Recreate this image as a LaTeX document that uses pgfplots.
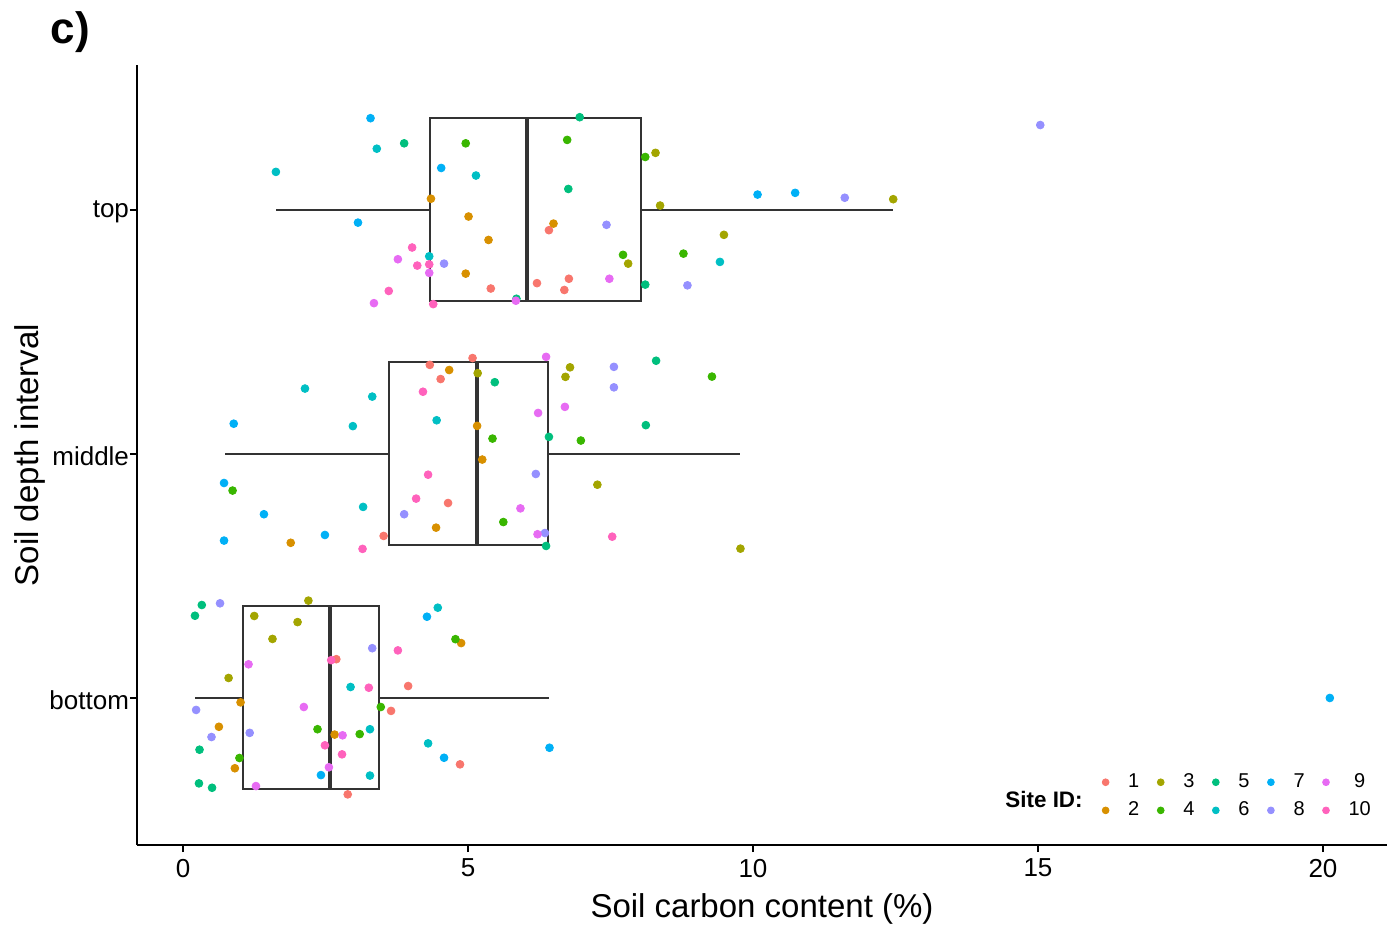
\documentclass[border=0pt]{standalone}
\usepackage{pgfplots}
\pgfplotsset{compat=1.18}
\usepgfplotslibrary{statistics}
\usepackage{fontspec}
\setmainfont{Liberation Sans}

\definecolor{s1}{HTML}{F8766D}
\definecolor{s2}{HTML}{D89000}
\definecolor{s3}{HTML}{A3A500}
\definecolor{s4}{HTML}{39B600}
\definecolor{s5}{HTML}{00BF7D}
\definecolor{s6}{HTML}{00BFC4}
\definecolor{s7}{HTML}{00B0F6}
\definecolor{s8}{HTML}{9590FF}
\definecolor{s9}{HTML}{E76BF3}
\definecolor{s10}{HTML}{FF62BC}
\definecolor{boxgrey}{HTML}{333333}

\pgfplotsset{
  site/.style={only marks, mark=*, mark size=1.95bp, color=#1, mark options={draw=none, fill=#1}},
}

\begin{document}
\begin{tikzpicture}
\useasboundingbox (-68.5bp,-41bp) rectangle (630bp,422.5bp);
\begin{axis}[
  scale only axis, width=625bp, height=390bp,
  xmin=-0.807, xmax=21.123, ymin=0.3975, ymax=3.594,
  axis x line*=bottom, axis y line*=left,
  axis line style={line width=1bp, black},
  xtick={0,5,10,15,20},
  ytick={1,2,3}, yticklabels={bottom,middle,top},
  tick align=outside, major tick length=3.5bp,
  tick style={line width=1bp, black},
  /pgf/number format/assume math mode=true,
  tick label style={font=\fontsize{13bp}{15bp}\selectfont},
  yticklabel style={xshift=3bp, yshift=-1bp},
  xlabel={Soil carbon content (\%)},
  ylabel={Soil depth interval},
  label style={font=\fontsize{16.5bp}{19bp}\selectfont},
  x label style={at={(axis description cs:0.5,-0.082)}, anchor=center},
  y label style={at={(axis description cs:-0.086,0.5)}, anchor=center},
  boxplot/draw direction=x,
  boxplot/every median/.style={line width=2.2bp},
  clip=false,
  legend columns=2, transpose legend,
  legend image code/.code={\draw[#1, mark size=1.7bp] plot coordinates {(0bp,0bp)};},
  legend style={draw=none, fill=none, inner sep=0pt,
    at={(axis cs:16.12,0.597)}, anchor=west,
    font=\fontsize{10bp}{12bp}\selectfont, row sep=1.6bp,
    /tikz/every odd column/.append style={column sep=7.6bp},
    /tikz/every even column/.append style={column sep=7.0bp}},
]
% boxes
\addplot[forget plot, draw=boxgrey, line width=1bp, boxplot prepared={draw position=3,
  lower whisker=1.63, lower quartile=4.33, median=6.04, upper quartile=8.04, upper whisker=12.46,
  box extend=0.75, whisker extend=0}] coordinates {};
\addplot[forget plot, draw=boxgrey, line width=1bp, boxplot prepared={draw position=2,
  lower whisker=0.74, lower quartile=3.61, median=5.16, upper quartile=6.40, upper whisker=9.77,
  box extend=0.75, whisker extend=0}] coordinates {};
\addplot[forget plot, draw=boxgrey, line width=1bp, boxplot prepared={draw position=1,
  lower whisker=0.21, lower quartile=1.05, median=2.58, upper quartile=3.44, upper whisker=6.42,
  box extend=0.75, whisker extend=0}] coordinates {};

% jittered points, one series per site (top, middle, bottom)
\addplot[site=s1] coordinates {(5.40,2.678)(6.21,2.700)(6.77,2.718)(6.69,2.672)(6.42,2.917)
  (4.33,2.365)(4.52,2.307)(4.65,1.799)(3.52,1.664)(5.08,2.393)
  (2.69,1.159)(2.89,0.605)(3.95,1.049)(3.65,0.947)(4.86,0.728)};
\addlegendentry{1}
\addplot[site=s2] coordinates {(4.35,3.046)(5.01,2.973)(5.36,2.877)(4.96,2.739)(6.50,2.944)
  (4.67,2.344)(4.44,1.698)(1.89,1.636)(5.16,2.115)(5.25,1.977)
  (1.01,0.982)(0.63,0.882)(2.66,0.850)(0.91,0.712)(4.88,1.225)};
\addlegendentry{2}
\addplot[site=s3] coordinates {(8.29,3.234)(8.37,3.018)(9.49,2.898)(7.81,2.780)(12.46,3.044)
  (5.17,2.331)(6.79,2.355)(6.71,2.316)(7.27,1.874)(9.78,1.612)
  (2.20,1.399)(1.25,1.336)(2.01,1.311)(1.57,1.242)(0.80,1.082)};
\addlegendentry{3}
\addplot[site=s4] coordinates {(4.96,3.273)(6.74,3.287)(8.11,3.217)(7.72,2.816)(8.78,2.821)
  (0.87,1.850)(9.28,2.317)(5.43,2.063)(6.98,2.055)(5.62,1.721)
  (3.47,0.963)(2.36,0.872)(3.10,0.852)(0.99,0.754)(4.78,1.241)};
\addlegendentry{4}
\addplot[site=s5] coordinates {(3.88,3.273)(6.96,3.380)(6.76,3.086)(8.11,2.694)(5.85,2.636)
  (5.47,2.294)(8.30,2.382)(8.12,2.118)(6.42,2.070)(6.37,1.623)
  (0.33,1.381)(0.21,1.337)(0.29,0.788)(0.28,0.650)(0.51,0.632)};
\addlegendentry{5}
\addplot[site=s6] coordinates {(3.40,3.251)(1.63,3.156)(5.14,3.141)(4.32,2.810)(9.42,2.787)
  (2.14,2.268)(3.32,2.235)(2.98,2.114)(4.45,2.138)(3.16,1.783)
  (2.94,1.045)(3.28,0.872)(3.28,0.682)(4.47,1.370)(4.30,0.814)};
\addlegendentry{6}
\addplot[site=s7] coordinates {(3.29,3.376)(4.53,3.172)(3.07,2.948)(10.08,3.063)(10.74,3.070)
  (0.89,2.124)(0.72,1.881)(1.42,1.753)(0.72,1.645)(2.49,1.668)
  (2.42,0.684)(4.28,1.333)(4.58,0.755)(6.43,0.796)(20.12,1.000)};
\addlegendentry{7}
\addplot[site=s8] coordinates {(4.58,2.780)(7.43,2.939)(8.85,2.691)(11.61,3.050)(15.04,3.348)
  (3.88,1.753)(7.56,2.357)(7.56,2.273)(6.19,1.918)(6.35,1.676)
  (0.65,1.388)(3.32,1.204)(0.23,0.951)(0.50,0.840)(1.17,0.857)};
\addlegendentry{8}
\addplot[site=s9] coordinates {(3.77,2.798)(4.32,2.742)(3.35,2.618)(7.48,2.718)(5.84,2.628)
  (6.37,2.398)(6.70,2.193)(6.23,2.168)(5.92,1.777)(6.22,1.671)
  (1.15,1.138)(2.12,0.963)(2.80,0.847)(2.56,0.716)(1.28,0.639)};
\addlegendentry{9}
\addplot[site=s10] coordinates {(4.02,2.846)(4.11,2.772)(4.32,2.777)(3.61,2.668)(4.39,2.614)
  (4.21,2.255)(4.30,1.915)(4.09,1.817)(3.15,1.611)(7.53,1.661)
  (2.60,1.155)(3.26,1.042)(2.49,0.806)(2.79,0.769)(3.77,1.195)};
\addlegendentry{10}

\node[anchor=east, inner sep=0pt, font=\fontsize{11.2bp}{13bp}\selectfont\bfseries] at (axis cs:15.79,0.582) {Site ID:};
\node[anchor=center, inner sep=0pt, font=\fontsize{22bp}{26bp}\selectfont\bfseries] at (axis cs:-1.98,3.73) {c)};
\end{axis}
\end{tikzpicture}
\end{document}
